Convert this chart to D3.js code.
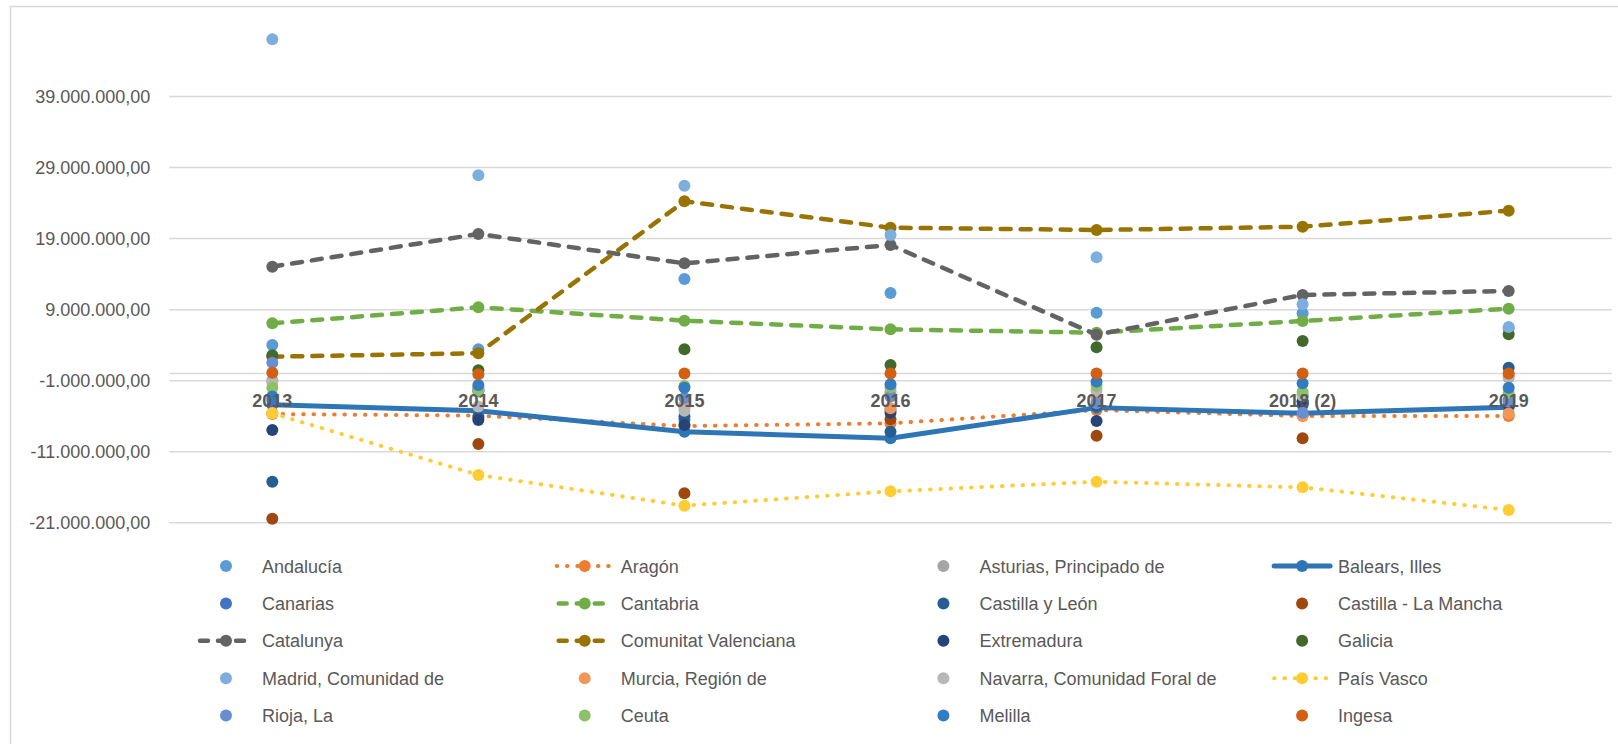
<!DOCTYPE html>
<html>
<head>
<meta charset="utf-8">
<script src="https://cdn.jsdelivr.net/npm/d3@7"></script>
<style>
  body { margin: 0; background: #fff; }
  text { font-family: "Liberation Sans", Arial, sans-serif; }
</style>
</head>
<body>
<svg id="chart" width="1618" height="744"></svg>
<script>

// categories and tick values
var years = ["2013", "2014", "2015", "2016", "2017", "2018 (2)", "2019"];
var yTicks = [-21000000, -11000000, -1000000, 9000000, 19000000, 29000000, 39000000];

// series values
var andalucia      = [3950000, 3350000, 13240000, 11270000, 8500000, 8410000, 6300000];
var aragon         = [-5760000, -5990000, -7450000, -7070000, -5200000, -6040000, -6040000];
var asturias       = [-1000000, -2000000, -4800000, -2600000, -3400000, -3000000, -600000];
var balears        = [-4450000, -5290000, -8250000, -9180000, -4860000, -5660000, -4820000];
var canarias       = [-3800000, -2400000, -6600000, -5200000, -4500000, -4000000, -3800000];
var cantabria      = [7000000, 9260000, 7380000, 6160000, 5690000, 7330000, 9070000];
var castillaLeon   = [-15280000, -6200000, -6100000, -8250000, -4600000, -4490000, 760000];
var castillaMancha = [-20490000, -9980000, -16920000, -6500000, -8810000, -9180000, -4600000];
var catalunya      = [14980000, 19580000, 15450000, 18030000, 5400000, 11000000, 11560000];
var valenciana     = [2310000, 2800000, 24180000, 20470000, 20140000, 20600000, 22860000];
var extremadura    = [-8000000, -6600000, -7300000, -5570000, -6740000, -4000000, -4500000];
var galicia        = [2500000, 400000, 3350000, 1140000, 3630000, 4520000, 5460000];
var madrid         = [46980000, 27840000, 26380000, 19440000, 16300000, 9680000, 6500000];
var murcia         = [-5600000, -2300000, -4500000, -4960000, -3900000, -6000000, -5700000];
var navarra        = [-1300000, -4700000, -5300000, -2900000, -2400000, -3200000, -400000];
var paisVasco      = [-5660000, -14340000, -18660000, -16640000, -15280000, -16080000, -19270000];
var rioja          = [1470000, -2600000, -3500000, -3300000, -4250000, -5570000, -4020000];
var ceuta          = [-2050000, -2400000, -1800000, -2000000, -1770000, -2620000, -2760000];
var melilla        = [-3300000, -1670000, -2050000, -1580000, -1200000, -1440000, -2050000];
var ingesa         = [50000, -150000, -50000, -50000, -50000, -50000, -50000];

// series list: name, values, style
var series = [
    { name: "Andalucía", values: andalucia, color: "#5B9BD5", line: null },
    { name: "Aragón", values: aragon, color: "#ED7D31", line: "dot" },
    { name: "Asturias, Principado de", values: asturias, color: "#A5A5A5", line: null },
    { name: "Balears, Illes", values: balears, color: "#2E75B6", line: "solid" },
    { name: "Canarias", values: canarias, color: "#4472C4", line: null },
    { name: "Cantabria", values: cantabria, color: "#70AD47", line: "dash" },
    { name: "Castilla y León", values: castillaLeon, color: "#255E91", line: null },
    { name: "Castilla - La Mancha", values: castillaMancha, color: "#9E480E", line: null },
    { name: "Catalunya", values: catalunya, color: "#636363", line: "dash" },
    { name: "Comunitat Valenciana", values: valenciana, color: "#997300", line: "dash" },
    { name: "Extremadura", values: extremadura, color: "#264478", line: null },
    { name: "Galicia", values: galicia, color: "#43682B", line: null },
    { name: "Madrid, Comunidad de", values: madrid, color: "#7CAFDD", line: null },
    { name: "Murcia, Región de", values: murcia, color: "#F1975A", line: null },
    { name: "Navarra, Comunidad Foral de", values: navarra, color: "#B7B7B7", line: null },
    { name: "País Vasco", values: paisVasco, color: "#FFCD33", line: "dot" },
    { name: "Rioja, La", values: rioja, color: "#698ED0", line: null },
    { name: "Ceuta", values: ceuta, color: "#8CC168", line: null },
    { name: "Melilla", values: melilla, color: "#327DC2", line: null },
    { name: "Ingesa", values: ingesa, color: "#D26012", line: null }
];

var textColor = "#595959";
var gridColor = "#d9d9d9";

var svg = d3.select("#chart");

// chart border
svg.append("rect")
    .attr("x", 10.5).attr("y", 6.5)
    .attr("width", 1640).attr("height", 760)
    .attr("fill", "none")
    .attr("stroke", gridColor)
    .attr("stroke-width", 1.5);

// scales
var left = 169.3, right = 1611.7;

var xScale = d3.scaleBand()
    .domain(years)
    .range([left, right])
    .padding(0);

var yScale = d3.scaleLinear()
    .domain([-21000000, 39000000])
    .range([522.3, 96]);

function xPos(i) { return xScale(years[i]) + xScale.bandwidth() / 2; }

// spanish number format
var es = d3.formatLocale({ decimal: ",", thousands: ".", grouping: [3], currency: ["", " €"], minus: "-" });
var fmt = es.format(",.2f");

// y axis with gridlines
var yAxis = svg.append("g")
    .attr("transform", "translate(" + left + ",0)")
    .call(d3.axisLeft(yScale)
        .tickValues(yTicks)
        .tickSize(-(right - left))
        .tickPadding(19)
        .tickFormat(fmt));

yAxis.select(".domain").remove();
yAxis.selectAll(".tick line")
    .attr("stroke", gridColor)
    .attr("stroke-width", 1.5);
yAxis.selectAll(".tick text")
    .attr("fill", textColor)
    .attr("dy", "6.5")
    .style("font-size", "18px");

// zero line (category axis)
var zeroLine = svg.append("g")
    .attr("transform", "translate(0," + yScale(0) + ")")
    .call(d3.axisBottom(xScale).tickSize(0).tickFormat(""));

zeroLine.select(".domain")
    .attr("stroke", gridColor)
    .attr("stroke-width", 1.5);

// line styles
function lineWidth(t) { return t == "solid" ? 5 : (t == "dash" ? 4.5 : 4); }
function lineDash(t) { return t == "dash" ? "10,10" : (t == "dot" ? "0.5,9.8" : null); }

var line = d3.line()
    .x(function(d, i) { return xPos(i); })
    .y(function(d) { return yScale(d); });

var plot = svg.append("g");

series.forEach(function(s) {
    if (s.line) {
        plot.append("path")
            .datum(s.values)
            .attr("d", line)
            .attr("fill", "none")
            .attr("stroke", s.color)
            .attr("stroke-width", lineWidth(s.line))
            .attr("stroke-dasharray", lineDash(s.line))
            .attr("stroke-linecap", "round")
            .attr("stroke-linejoin", "round");
    }
    plot.selectAll(null)
        .data(s.values)
        .enter().append("circle")
        .attr("cx", function(d, i) { return xPos(i); })
        .attr("cy", function(d) { return yScale(d); })
        .attr("r", 6)
        .attr("fill", s.color);
});

// category labels, drawn over the markers
var xAxis = svg.append("g")
    .attr("transform", "translate(0," + yScale(0) + ")")
    .call(d3.axisBottom(xScale).tickSize(0));

xAxis.select(".domain").remove();
xAxis.selectAll(".tick text")
    .attr("y", 33.5)
    .attr("dy", null)
    .attr("fill", textColor)
    .style("font-size", "18px")
    .style("font-weight", "bold");

// legend
var legend = svg.append("g");

series.forEach(function(s, i) {
    var col = i % 4, row = Math.floor(i / 4);
    var mx = 226 + col * 358.7;
    var my = 566 + row * 37.4;
    var g = legend.append("g").attr("transform", "translate(" + mx + "," + my + ")");
    if (s.line) {
        g.append("line")
            .attr("x1", -28).attr("x2", 28)
            .attr("stroke", s.color)
            .attr("stroke-width", lineWidth(s.line))
            .attr("stroke-dasharray", s.line == "dash" ? "8,10" : lineDash(s.line))
            .attr("stroke-dashoffset", s.line == "dash" ? -2 : 0)
            .attr("stroke-linecap", "round");
    }
    g.append("circle")
        .attr("r", 6)
        .attr("fill", s.color);
    g.append("text")
        .attr("x", 36)
        .attr("y", 6.5)
        .attr("fill", textColor)
        .style("font-size", "18px")
        .text(s.name);
});

</script>
</body>
</html>
